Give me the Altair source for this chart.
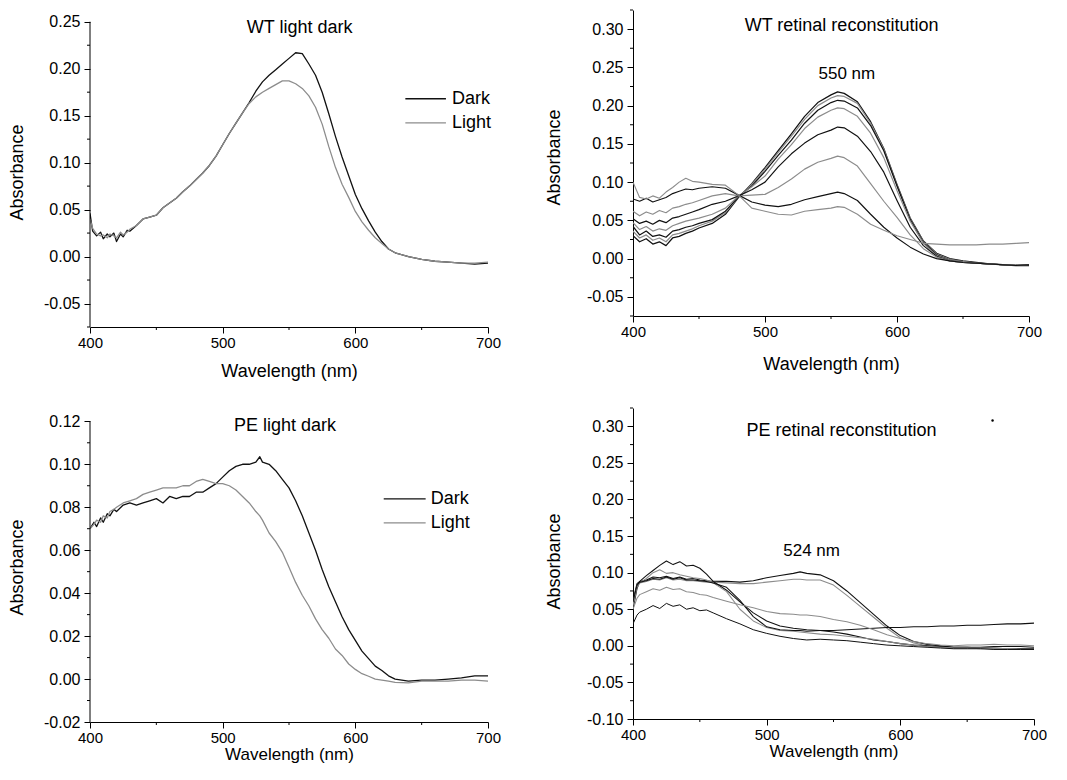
import altair as alt
import pandas as pd

FONT = "Liberation Sans"

# ---------------- data ----------------
# Panel 1: WT light / dark
wt_wl = [400, 402, 405, 408, 410, 413, 415, 418, 420, 423, 425, 428, 430,
         435, 440, 445, 450, 455, 460, 465, 470, 475, 480,
         485, 490, 495, 500, 505, 510, 515, 520, 525, 530,
         535, 540, 545, 550, 555, 560, 565, 570, 575, 580,
         585, 590, 595, 600, 605, 610, 615, 620, 625, 630,
         640, 650, 660, 670, 680, 690, 700]
wt_dark = [0.046, 0.027, 0.022, 0.026, 0.019, 0.024, 0.021, 0.025, 0.016, 0.024, 0.021, 0.028, 0.027,
           0.033, 0.040, 0.042, 0.044, 0.052, 0.057, 0.062, 0.069, 0.075, 0.082,
           0.089, 0.097, 0.107, 0.119, 0.131, 0.142, 0.153, 0.164, 0.176, 0.186,
           0.193, 0.199, 0.205, 0.211, 0.217, 0.216, 0.205, 0.193, 0.175, 0.152,
           0.128, 0.106, 0.086, 0.066, 0.051, 0.038, 0.026, 0.016, 0.008, 0.004,
           0.000, -0.003, -0.005, -0.006, -0.007, -0.008, -0.007]
wt_light = [0.040, 0.030, 0.024, 0.022, 0.023, 0.020, 0.024, 0.022, 0.020, 0.026, 0.023, 0.026, 0.029,
            0.033, 0.040, 0.042, 0.044, 0.052, 0.057, 0.062, 0.069, 0.075, 0.082,
            0.089, 0.097, 0.107, 0.119, 0.131, 0.142, 0.153, 0.163, 0.170, 0.175,
            0.179, 0.183, 0.187, 0.187, 0.184, 0.179, 0.171, 0.159, 0.141, 0.117,
            0.095, 0.077, 0.063, 0.048, 0.037, 0.028, 0.020, 0.014, 0.008, 0.004,
            0.000, -0.003, -0.005, -0.006, -0.007, -0.007, -0.006]

# Panel 2: WT retinal reconstitution (8 spectra)
wtr_wl = [400, 405, 410, 415, 420, 425, 430, 435, 440, 445, 450,
          460, 470, 480, 490, 500, 510, 520, 530, 540, 550,
          555,
          560, 570, 580, 590, 600, 610, 620, 630, 640, 650, 660, 670, 680, 690, 700]
wtr_a = [0.030, 0.022, 0.026, 0.019, 0.022, 0.017, 0.027, 0.029, 0.033, 0.036, 0.040,
         0.046, 0.058, 0.080, 0.098, 0.119, 0.141, 0.163, 0.186, 0.204, 0.214,
         0.218,
         0.216, 0.205, 0.179, 0.144, 0.097, 0.053, 0.023, 0.007, 0.000, -0.003, -0.005, -0.007, -0.008, -0.009, -0.009]
wtr_b = [0.036, 0.027, 0.031, 0.024, 0.027, 0.022, 0.031, 0.033, 0.036, 0.039, 0.043,
         0.049, 0.060, 0.081, 0.097, 0.117, 0.139, 0.160, 0.182, 0.200, 0.210,
         0.213,
         0.212, 0.203, 0.177, 0.143, 0.096, 0.052, 0.022, 0.006, -0.001, -0.004, -0.006, -0.007, -0.008, -0.008, -0.008]
wtr_c = [0.042, 0.031, 0.036, 0.029, 0.031, 0.028, 0.036, 0.038, 0.041, 0.043, 0.046,
         0.051, 0.062, 0.081, 0.095, 0.114, 0.135, 0.155, 0.177, 0.194, 0.204,
         0.207,
         0.206, 0.197, 0.174, 0.141, 0.095, 0.051, 0.021, 0.005, -0.002, -0.004, -0.006, -0.007, -0.008, -0.009, -0.008]
wtr_d = [0.047, 0.038, 0.042, 0.036, 0.039, 0.037, 0.043, 0.046, 0.049, 0.051, 0.053,
         0.058, 0.066, 0.082, 0.094, 0.108, 0.130, 0.149, 0.170, 0.185, 0.194,
         0.197,
         0.196, 0.186, 0.164, 0.132, 0.089, 0.049, 0.020, 0.004, -0.002, -0.004, -0.006, -0.007, -0.008, -0.009, -0.009]
wtr_e = [0.052, 0.046, 0.049, 0.045, 0.050, 0.047, 0.053, 0.055, 0.058, 0.061, 0.064,
         0.071, 0.075, 0.082, 0.090, 0.100, 0.120, 0.137, 0.151, 0.162, 0.168,
         0.172,
         0.171, 0.160, 0.140, 0.113, 0.076, 0.041, 0.017, 0.003, -0.003, -0.005, -0.006, -0.007, -0.008, -0.009, -0.009]
wtr_f = [0.062, 0.056, 0.061, 0.058, 0.063, 0.060, 0.066, 0.068, 0.071, 0.073, 0.076,
         0.082, 0.085, 0.082, 0.083, 0.084, 0.093, 0.104, 0.117, 0.126, 0.131,
         0.134,
         0.132, 0.121, 0.098, 0.075, 0.054, 0.031, 0.013, 0.002, -0.003, -0.005, -0.006, -0.007, -0.008, -0.009, -0.008]
wtr_g = [0.078, 0.075, 0.079, 0.074, 0.077, 0.080, 0.085, 0.088, 0.091, 0.090, 0.092,
         0.094, 0.092, 0.083, 0.074, 0.070, 0.068, 0.071, 0.077, 0.081, 0.085,
         0.087,
         0.085, 0.076, 0.058, 0.041, 0.027, 0.015, 0.006, 0.000, -0.003, -0.005, -0.006, -0.007, -0.008, -0.009, -0.008]
wtr_h = [0.100, 0.080, 0.078, 0.082, 0.079, 0.087, 0.093, 0.100, 0.105, 0.101, 0.100,
         0.097, 0.096, 0.083, 0.066, 0.062, 0.058, 0.057, 0.062, 0.064, 0.066,
         0.068,
         0.067, 0.058, 0.045, 0.037, 0.030, 0.025, 0.020, 0.019, 0.018, 0.018, 0.018, 0.019, 0.019, 0.020, 0.021]

# Panel 3: PE light / dark
pe_wl = [400, 403, 405, 408, 410, 413, 415, 418, 420,
         425, 430, 435, 440, 445, 450, 455, 460, 465, 470, 475, 480, 485, 490, 495, 500, 505, 510, 515, 520, 525,
         528,
         530, 535, 540, 545, 550, 555, 560, 565, 570, 575, 580, 585, 590, 595, 600, 605, 610, 615, 620, 625, 630,
         640, 650, 660, 670, 680, 690, 700]
pe_dark = [0.070, 0.073, 0.071, 0.075, 0.073, 0.077, 0.076, 0.079, 0.078,
           0.081, 0.082, 0.081, 0.082, 0.083, 0.084, 0.082, 0.085, 0.084, 0.085, 0.085, 0.087, 0.087, 0.089, 0.091,
           0.094, 0.097, 0.099, 0.100, 0.100, 0.101,
           0.1035,
           0.101, 0.100, 0.097, 0.093, 0.089, 0.083, 0.076, 0.068, 0.060, 0.051, 0.043, 0.036, 0.029, 0.023, 0.018,
           0.013, 0.0095, 0.006, 0.004, 0.0015, 0.000,
           -0.001, -0.0005, -0.0005, 0.000, 0.0005, 0.0015, 0.0015]
pe_light = [0.070, 0.072, 0.074, 0.073, 0.076, 0.075, 0.078, 0.079, 0.080,
            0.082, 0.083, 0.084, 0.086, 0.087, 0.088, 0.089, 0.089, 0.089, 0.090, 0.090, 0.092, 0.093, 0.092, 0.091,
            0.091, 0.090, 0.088, 0.085, 0.082, 0.078,
            0.076,
            0.074, 0.068, 0.064, 0.059, 0.052, 0.045, 0.039, 0.034, 0.028, 0.023, 0.019, 0.014, 0.011, 0.007, 0.0045,
            0.0025, 0.0013, 0.000, -0.0005, -0.001, -0.0015,
            -0.0018, -0.001, -0.001, -0.001, -0.0005, -0.0005, -0.001]

# Panel 4: PE retinal reconstitution (7 spectra)
per_wl = [400, 403, 405,
          410, 415, 420, 425, 430, 435, 440, 445, 450, 455, 460,
          470, 480, 490, 500, 510, 520,
          525,
          530, 540, 550, 560, 570, 580, 590, 600, 610, 620, 630, 640, 650, 660, 670, 680, 690, 700]
per_1 = [0.062, 0.085, 0.088,
         0.090, 0.094, 0.093, 0.095, 0.092, 0.094, 0.091, 0.092, 0.090, 0.089, 0.088,
         0.088, 0.087, 0.089, 0.093, 0.096, 0.099,
         0.101,
         0.099, 0.097, 0.089, 0.075, 0.059, 0.043, 0.027, 0.014, 0.006, 0.002, 0.000, -0.002, -0.002, -0.003, -0.003, -0.004, -0.004, -0.004]
per_2 = [0.058, 0.082, 0.086,
         0.088, 0.091, 0.090, 0.093, 0.090, 0.091, 0.089, 0.089, 0.088, 0.087, 0.087,
         0.086, 0.085, 0.085, 0.087, 0.089, 0.091,
         0.091,
         0.090, 0.090, 0.083, 0.069, 0.054, 0.039, 0.024, 0.011, 0.004, 0.000, -0.002, -0.003, -0.003, -0.004, -0.003, -0.004, -0.005, -0.005]
per_3 = [0.050, 0.078, 0.088,
         0.096, 0.103, 0.110, 0.116, 0.111, 0.115, 0.109, 0.110, 0.106, 0.098, 0.088,
         0.076, 0.060, 0.045, 0.034, 0.027, 0.024,
         0.023,
         0.022, 0.021, 0.019, 0.016, 0.012, 0.008, 0.006, 0.003, 0.001, 0.000, -0.001, -0.002, -0.002, -0.002, -0.001, -0.001, -0.001, -0.002]
per_4 = [0.055, 0.080, 0.086,
         0.092, 0.100, 0.104, 0.099, 0.100, 0.097, 0.095, 0.093, 0.092, 0.090, 0.086,
         0.074, 0.050, 0.034, 0.025, 0.021, 0.020,
         0.019,
         0.018, 0.016, 0.015, 0.013, 0.011, 0.009, 0.006, 0.003, 0.001, -0.001, -0.002, -0.003, -0.003, -0.003, -0.004, -0.004, -0.005, -0.005]
per_5 = [0.060, 0.083, 0.087,
         0.089, 0.092, 0.091, 0.094, 0.091, 0.093, 0.090, 0.090, 0.089, 0.088, 0.086,
         0.080, 0.062, 0.040, 0.026, 0.022, 0.021,
         0.021,
         0.020, 0.021, 0.021, 0.022, 0.023, 0.024, 0.025, 0.025, 0.026, 0.026, 0.027, 0.027, 0.028, 0.028, 0.029, 0.030, 0.030, 0.031]
per_6 = [0.050, 0.065, 0.070,
         0.074, 0.078, 0.076, 0.080, 0.077, 0.078, 0.074, 0.073, 0.070, 0.069, 0.066,
         0.061, 0.056, 0.052, 0.047, 0.044, 0.043,
         0.042,
         0.042, 0.040, 0.036, 0.033, 0.028, 0.022, 0.015, 0.010, 0.006, 0.003, 0.001, 0.000, 0.001, 0.001, 0.002, 0.001, 0.001, 0.000]
per_7 = [0.030, 0.042, 0.046,
         0.050, 0.055, 0.051, 0.058, 0.054, 0.056, 0.050, 0.052, 0.048, 0.049, 0.045,
         0.037, 0.030, 0.022, 0.017, 0.013, 0.010,
         0.009,
         0.008, 0.009, 0.008, 0.007, 0.005, 0.003, 0.001, 0.000, -0.001, -0.002, -0.003, -0.004, -0.004, -0.004, -0.005, -0.005, -0.005, -0.005]

stray_dot_wl = [669]
stray_dot_abs = [0.308]

x_major_ticks = [400, 500, 600, 700]
x_minor_ticks = [450, 550, 650]


# ---------------- helpers ----------------
def long_table(wl, names, series):
    rows = []
    for name, vals in zip(names, series):
        assert len(vals) == len(wl), (name, len(vals), len(wl))
        for w, v in zip(wl, vals):
            rows.append({"wl": w, "abs": v, "series": name})
    return pd.DataFrame(rows)


def steps(lo, hi, step):
    n = int(round((hi - lo) / step))
    return [round(lo + i * step, 4) + 0.0 for i in range(n + 1)]


def y_axis(majors, title_x, title_y, domain=True):
    return alt.Axis(
        title="Absorbance",
        values=majors,
        domain=domain,
        labelExpr="(datum.value < -0.000001 ? '-' : '') + format(abs(datum.value), '.2f')",
        tickSize=6,
        labelPadding=4,
        labelFontSize=16,
        labelOverlap=False,
        labelFlush=False,
        tickCount=len(majors),
        titleX=title_x,
        titleY=title_y,
        titleAlign="center",
        titleBaseline="middle",
        titleAngle=270,
    )


def x_axis(title_pad, title_size=18):
    return alt.Axis(
        title="Wavelength (nm)",
        values=x_major_ticks,
        format="d",
        tickSize=6,
        labelPadding=2,
        labelFontSize=15,
        labelOverlap=False,
        labelFlush=False,
        titlePadding=title_pad,
        titleFontSize=title_size,
    )


def panel(df, names, colors, widths, ydom, y_major, y_minor_step, y_lo, y_hi,
          ytitle_x, ytitle_y, xpad, xtitle_size, width, height,
          notes, legend=None, left_rule=None, extra=None, domain=True):
    xs = alt.Scale(domain=[400, 700], nice=False, zero=False)
    ys = alt.Scale(domain=ydom, nice=False, zero=False)
    cscale = alt.Scale(domain=names, range=colors)
    wscale = alt.Scale(domain=names, range=widths)
    X = lambda f: alt.X(f, title="Wavelength (nm)")
    Y = lambda f: alt.Y(f, title="Absorbance")

    majors = steps(y_lo, y_hi, y_major)
    minor_top = y_hi if left_rule is not None else ydom[1]
    minors = [v for v in steps(ydom[0], minor_top, y_minor_step)
              if all(abs(v - m) > 1e-6 for m in majors)]

    layers = []
    layers.append(
        alt.Chart(df).mark_line(clip=True, strokeJoin="round").encode(
            x=alt.X("wl:Q", scale=xs, axis=x_axis(xpad, xtitle_size)),
            y=alt.Y("abs:Q", scale=ys, axis=y_axis(majors, ytitle_x, ytitle_y, domain=domain)),
            color=alt.Color("series:N", scale=cscale, legend=None),
            strokeWidth=alt.StrokeWidth("series:N", scale=wscale, legend=None),
        )
    )

    # minor ticks (axis decoration)
    layers.append(
        alt.Chart(pd.DataFrame({"abs": minors})).mark_rule(clip=False, color="black", strokeWidth=1).encode(
            x=alt.value(0), x2=alt.value(-3), y=Y("abs:Q"))
    )
    layers.append(
        alt.Chart(pd.DataFrame({"wl": x_minor_ticks})).mark_rule(clip=False, color="black", strokeWidth=1).encode(
            x=X("wl:Q"), y=alt.value(height), y2=alt.value(height + 3))
    )

    if left_rule is not None:
        layers.append(
            alt.Chart(left_rule).mark_rule(color="black", strokeWidth=1, clip=False).encode(
                x=X("wl:Q"), y=Y("abs:Q"), y2="abs2:Q")
        )

    if legend is not None:
        layers.append(
            alt.Chart(legend).mark_rule().encode(
                x=X("wl:Q"), x2="wl2:Q", y=Y("abs:Q"),
                color=alt.Color("series:N", scale=cscale, legend=None),
                strokeWidth=alt.StrokeWidth("series:N", scale=wscale, legend=None),
            )
        )
        layers.append(
            alt.Chart(legend).mark_text(align="left", baseline="middle", font=FONT,
                                        fontSize=18, color="black").encode(
                x=X("wl3:Q"), y=Y("abs:Q"), text="series:N")
        )

    layers.append(
        alt.Chart(notes).mark_text(align="center", baseline="middle", font=FONT, color="black").encode(
            x=X("wl:Q"), y=Y("abs:Q"), text="label:N",
            size=alt.Size("fs:Q", scale=None, legend=None),
        )
    )

    if extra is not None:
        layers.append(extra)

    return alt.layer(*layers).properties(width=width, height=height)


# ---------------- panel 1 ----------------
ld_names = ["Dark", "Light"]
ld_colors = ["#111111", "#8c8c8c"]
ld_widths = [1.3, 1.0]

df1 = long_table(wt_wl, ld_names, [wt_dark, wt_light])
notes1 = pd.DataFrame({"wl": [558], "abs": [0.2433], "label": ["WT light dark"], "fs": [18]})
leg1 = pd.DataFrame({"series": ld_names, "wl": [637.7, 637.7], "wl2": [668.3, 668.3],
                     "wl3": [672.9, 672.9], "abs": [0.168, 0.1424]})
rule1 = pd.DataFrame({"wl": [400], "abs": [-0.075], "abs2": [0.25]})
p1 = panel(df1, ld_names, ld_colors, ld_widths, [-0.075, 0.2625], 0.05, 0.025, -0.05, 0.25,
           -72.5, 162, 12, 18, 398, 317, notes1, legend=leg1, left_rule=rule1, domain=False)

# ---------------- panel 2 ----------------
r_names2 = ["A", "B", "C", "D", "E", "F", "G", "H"]
r_colors2 = ["#111111", "#444444", "#555555", "#222222", "#555555", "#222222", "#444444", "#222222"]
r_widths2 = [1.0] * 8
df2 = long_table(wtr_wl, r_names2, [wtr_a, wtr_b, wtr_c, wtr_d, wtr_e, wtr_f, wtr_g, wtr_h])
notes2 = pd.DataFrame({"wl": [558, 562], "abs": [0.304, 0.2412],
                       "label": ["WT retinal reconstitution", "550 nm"], "fs": [18, 17]})
p2 = panel(df2, r_names2, r_colors2, r_widths2, [-0.075, 0.325], 0.05, 0.025, -0.05, 0.30,
           -79, 147, 16, 18, 396, 306, notes2)

# ---------------- panel 3 ----------------
df3 = long_table(pe_wl, ld_names, [pe_dark, pe_light])
notes3 = pd.DataFrame({"wl": [547], "abs": [0.118], "label": ["PE light dark"], "fs": [18]})
leg3 = pd.DataFrame({"series": ld_names, "wl": [621.4, 621.4], "wl2": [653.0, 653.0],
                     "wl3": [656.8, 656.8], "abs": [0.0839, 0.0727]})
rule3 = pd.DataFrame({"wl": [400], "abs": [-0.02], "abs2": [0.12]})
p3 = panel(df3, ld_names, ld_colors, ld_widths, [-0.02, 0.1262], 0.02, 0.01, -0.02, 0.12,
           -72.5, 159, 1, 17, 398, 314, notes3, legend=leg3, left_rule=rule3, domain=False)

# ---------------- panel 4 ----------------
r_names4 = ["P1", "P2", "P3", "P4", "P5", "P6", "P7"]
r_colors4 = ["#222222", "#444444", "#333333", "#444444", "#222222", "#333333", "#222222"]
r_widths4 = [1.0] * 7
df4 = long_table(per_wl, r_names4, [per_1, per_2, per_3, per_4, per_5, per_6, per_7])
notes4 = pd.DataFrame({"wl": [556, 533.6], "abs": [0.294, 0.1296],
                       "label": ["PE retinal reconstitution", "524 nm"], "fs": [18, 17]})
dot4 = alt.Chart(pd.DataFrame({"wl": stray_dot_wl, "abs": stray_dot_abs})).mark_circle(
    size=6, color="black", opacity=1).encode(
    x=alt.X("wl:Q", title="Wavelength (nm)"), y=alt.Y("abs:Q", title="Absorbance"))
p4 = panel(df4, r_names4, r_colors4, r_widths4, [-0.1, 0.325], 0.05, 0.025, -0.10, 0.30,
           -79, 153, 1, 17, 401, 311, notes4, extra=dot4)

chart = alt.concat(
    p1, p2, p3, p4, columns=2, spacing={"row": 81, "column": 145},
    bounds="flush", align="each",
).properties(
    padding={"left": 0, "top": 1, "right": 0, "bottom": 5},
    background="white",
).configure(
    font=FONT,
).configure_axis(
    labelFont=FONT, titleFont=FONT, labelFontSize=15, titleFontSize=18,
    titleFontWeight="normal", labelColor="black", titleColor="black",
    domainColor="black", tickColor="black", domainWidth=1, tickWidth=1,
    grid=False, labelFlush=False, labelOverlap=False,
).configure_view(stroke=None)

chart.save("out.html", embed_options={"renderer": "svg", "actions": False})
